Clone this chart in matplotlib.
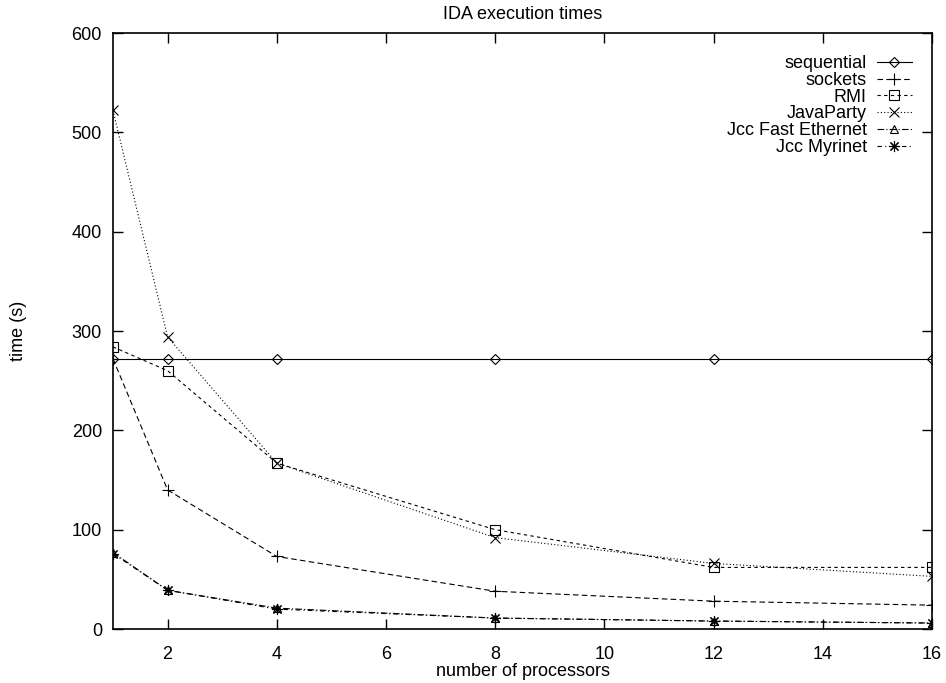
import matplotlib
matplotlib.use('Agg')
import matplotlib.pyplot as plt

plt.rcParams['font.family'] = ['Liberation Sans', 'DejaVu Sans']

procs = [1, 2, 4, 8, 12, 16]
sequential = [272, 272, 272, 272, 272, 272]
sockets = [272, 140, 73, 38, 28, 24]
rmi = [284, 260, 167, 100, 62, 62]
javaparty = [522, 294, 167, 92, 66, 53]
jcc_fast = [77, 39, 21, 11, 8, 6]
jcc_myri = [76, 39, 20, 11, 8, 6]

series = [
    ('sequential', sequential, '-', 'D', 5),
    ('sockets', sockets, (0, (5, 3)), '+', 8),
    ('RMI', rmi, (0, (3, 3)), 's', 7),
    ('JavaParty', javaparty, (0, (1, 2)), 'x', 7),
    ('Jcc Fast Ethernet', jcc_fast, (0, (6, 2, 1, 2)), '^', 6),
    ('Jcc Myrinet', jcc_myri, (0, (4, 3, 1, 3)), (8, 2, 0), 8),
]

fs = 13

fig = plt.figure(figsize=(9.46, 6.83), dpi=100)
ax = fig.add_axes([113/946, 54/683, 819/946, 596/683])

for name, vals, ls, mk, ms in series:
    ax.plot(procs, vals, linestyle=ls, color='black', linewidth=0.8,
            marker=mk, markersize=ms, markerfacecolor='none',
            markeredgecolor='black', markeredgewidth=0.8, label=name)

ax.set_xlim(1, 16)
ax.set_ylim(0, 600)
ax.set_xticks([2, 4, 6, 8, 10, 12, 14, 16])
ax.set_yticks([0, 100, 200, 300, 400, 500, 600])
ax.tick_params(direction='in', length=7, width=1, top=True, right=True,
               labelsize=fs)
ax.tick_params(axis='x', pad=12)
ax.tick_params(axis='y', pad=8)
for s in ax.spines.values():
    s.set_linewidth(1.2)

ax.set_title('IDA execution times', fontsize=fs, pad=10)
ax.set_xlabel('number of processors', fontsize=fs, labelpad=0)
ax.set_ylabel('time (s)', fontsize=fs, labelpad=32)

leg = ax.legend(loc='upper right', bbox_to_anchor=(921/946, 1 - 46/683),
                bbox_transform=fig.transFigure, frameon=False,
                markerfirst=False, fontsize=fs, handlelength=1.95,
                labelspacing=-0.01, handletextpad=0.55, borderpad=0)
for t in leg.get_texts():
    t.set_ha('right')
leg._legend_box.align = 'right'

fig.savefig('out.png', dpi=100)
